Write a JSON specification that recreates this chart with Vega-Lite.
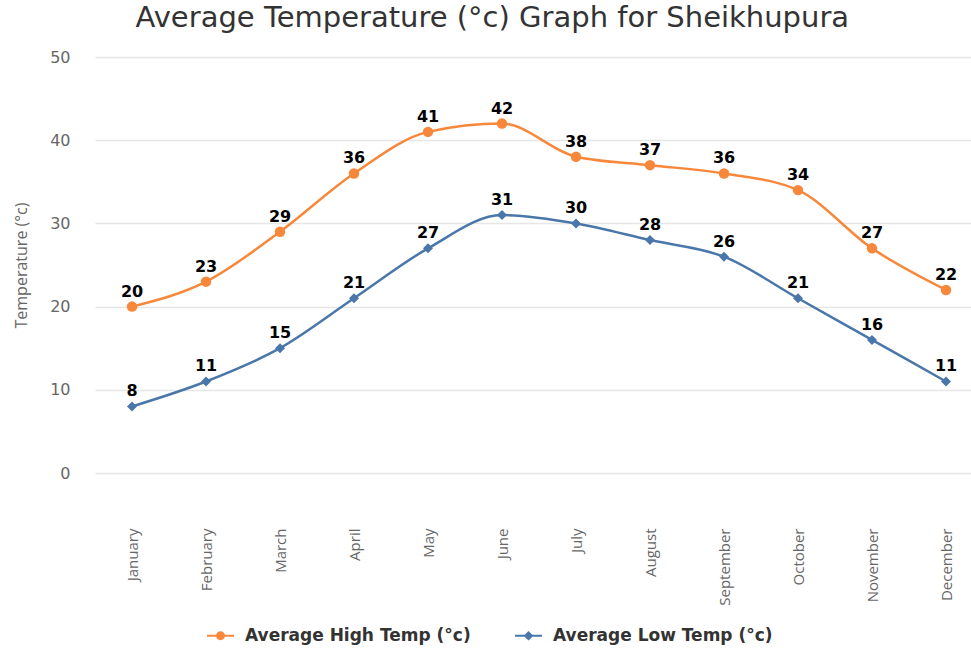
{
  "$schema": "https://vega.github.io/schema/vega-lite/v6.json",
  "width": 888,
  "height": 416,
  "autosize": {"type": "none"},
  "padding": {"left": 95, "top": 57, "right": -12, "bottom": 175},
  "background": "white",
  "title": {
    "text": "Average Temperature (°c) Graph for Sheikhupura",
    "font": "DejaVu Sans",
    "fontSize": 29,
    "fontWeight": "normal",
    "color": "#333333",
    "anchor": "middle",
    "frame": "bounds",
    "offset": 16,
    "dx": -6
  },
  "config": {"view": {"stroke": null}},
  "data": {
    "values": [
      {"month": "January", "series": "Average High Temp (°c)", "temp": 20},
      {"month": "February", "series": "Average High Temp (°c)", "temp": 23},
      {"month": "March", "series": "Average High Temp (°c)", "temp": 29},
      {"month": "April", "series": "Average High Temp (°c)", "temp": 36},
      {"month": "May", "series": "Average High Temp (°c)", "temp": 41},
      {"month": "June", "series": "Average High Temp (°c)", "temp": 42},
      {"month": "July", "series": "Average High Temp (°c)", "temp": 38},
      {"month": "August", "series": "Average High Temp (°c)", "temp": 37},
      {"month": "September", "series": "Average High Temp (°c)", "temp": 36},
      {"month": "October", "series": "Average High Temp (°c)", "temp": 34},
      {"month": "November", "series": "Average High Temp (°c)", "temp": 27},
      {"month": "December", "series": "Average High Temp (°c)", "temp": 22},
      {"month": "January", "series": "Average Low Temp (°c)", "temp": 8},
      {"month": "February", "series": "Average Low Temp (°c)", "temp": 11},
      {"month": "March", "series": "Average Low Temp (°c)", "temp": 15},
      {"month": "April", "series": "Average Low Temp (°c)", "temp": 21},
      {"month": "May", "series": "Average Low Temp (°c)", "temp": 27},
      {"month": "June", "series": "Average Low Temp (°c)", "temp": 31},
      {"month": "July", "series": "Average Low Temp (°c)", "temp": 30},
      {"month": "August", "series": "Average Low Temp (°c)", "temp": 28},
      {"month": "September", "series": "Average Low Temp (°c)", "temp": 26},
      {"month": "October", "series": "Average Low Temp (°c)", "temp": 21},
      {"month": "November", "series": "Average Low Temp (°c)", "temp": 16},
      {"month": "December", "series": "Average Low Temp (°c)", "temp": 11}
    ]
  },
  "encoding": {
    "x": {
      "field": "month",
      "type": "ordinal",
      "sort": ["January", "February", "March", "April", "May", "June", "July", "August", "September", "October", "November", "December"],
      "scale": {"type": "point", "padding": 0.5},
      "axis": {
        "title": null,
        "labelAngle": -90,
        "labelPadding": 55,
        "ticks": false,
        "domain": false,
        "grid": false,
        "labelFont": "Liberation Sans Narrow, Open Sans",
        "labelFontSize": 15,
        "labelColor": "#666666"
      }
    },
    "y": {
      "field": "temp",
      "type": "quantitative",
      "scale": {"domain": [0, 50], "nice": false, "zero": true},
      "axis": {
        "values": [0, 10, 20, 30, 40, 50],
        "title": "Temperature (°c)",
        "titleFont": "Liberation Sans Narrow, Open Sans",
        "titleFontSize": 16,
        "titleFontWeight": "normal",
        "titleColor": "#666666",
        "titlePadding": 20,
        "labelFont": "DejaVu Sans",
        "labelFontSize": 16,
        "labelColor": "#666666",
        "labelPadding": 25,
        "ticks": false,
        "domain": false,
        "grid": true,
        "gridColor": "#e6e6e6",
        "gridWidth": 1.5
      }
    },
    "color": {
      "field": "series",
      "type": "nominal",
      "scale": {"domain": ["Average High Temp (°c)", "Average Low Temp (°c)"], "range": ["#f7883b", "#4a77aa"]},
      "legend": {
        "orient": "none",
        "legendX": 112,
        "legendY": 565,
        "direction": "horizontal",
        "title": null,
        "labelFont": "DejaVu Sans",
        "labelFontSize": 17,
        "labelFontWeight": "bold",
        "labelColor": "#333333",
        "labelLimit": 400,
        "labelOffset": 11,
        "columnPadding": 44,
        "symbolSize": 729,
        "symbolOpacity": 1,
        "symbolStrokeWidth": 0
      }
    }
  },
  "layer": [
    {
      "mark": {"type": "line", "interpolate": "monotone", "strokeWidth": 2.5}
    },
    {
      "transform": [{"filter": "datum.series == 'Average High Temp (°c)'"}],
      "mark": {"type": "point", "shape": "circle", "filled": true, "opacity": 1, "size": 110}
    },
    {
      "transform": [{"filter": "datum.series == 'Average Low Temp (°c)'"}],
      "mark": {"type": "point", "shape": "diamond", "filled": true, "opacity": 1, "size": 100}
    },
    {
      "mark": {"type": "text", "font": "DejaVu Sans", "fontSize": 16, "fontWeight": "bold", "color": "#000000", "baseline": "alphabetic", "dy": -10},
      "encoding": {"text": {"field": "temp", "type": "quantitative"}, "color": {"value": "#000000"}}
    },
    {
      "transform": [{"filter": "datum.temp < -100"}],
      "mark": {"type": "point", "filled": true, "opacity": 1},
      "encoding": {
        "shape": {
          "field": "series",
          "type": "nominal",
          "scale": {
            "domain": ["Average High Temp (°c)", "Average Low Temp (°c)"],
            "range": [
              "M-1,-0.08H1V0.08H-1Z M-0.33,0A0.33,0.33 0 1,1 0.33,0A0.33,0.33 0 1,1 -0.33,0Z",
              "M-1,-0.08H1V0.08H-1Z M0,-0.36L0.36,0L0,0.36L-0.36,0Z"
            ]
          }
        }
      }
    }
  ]
}
